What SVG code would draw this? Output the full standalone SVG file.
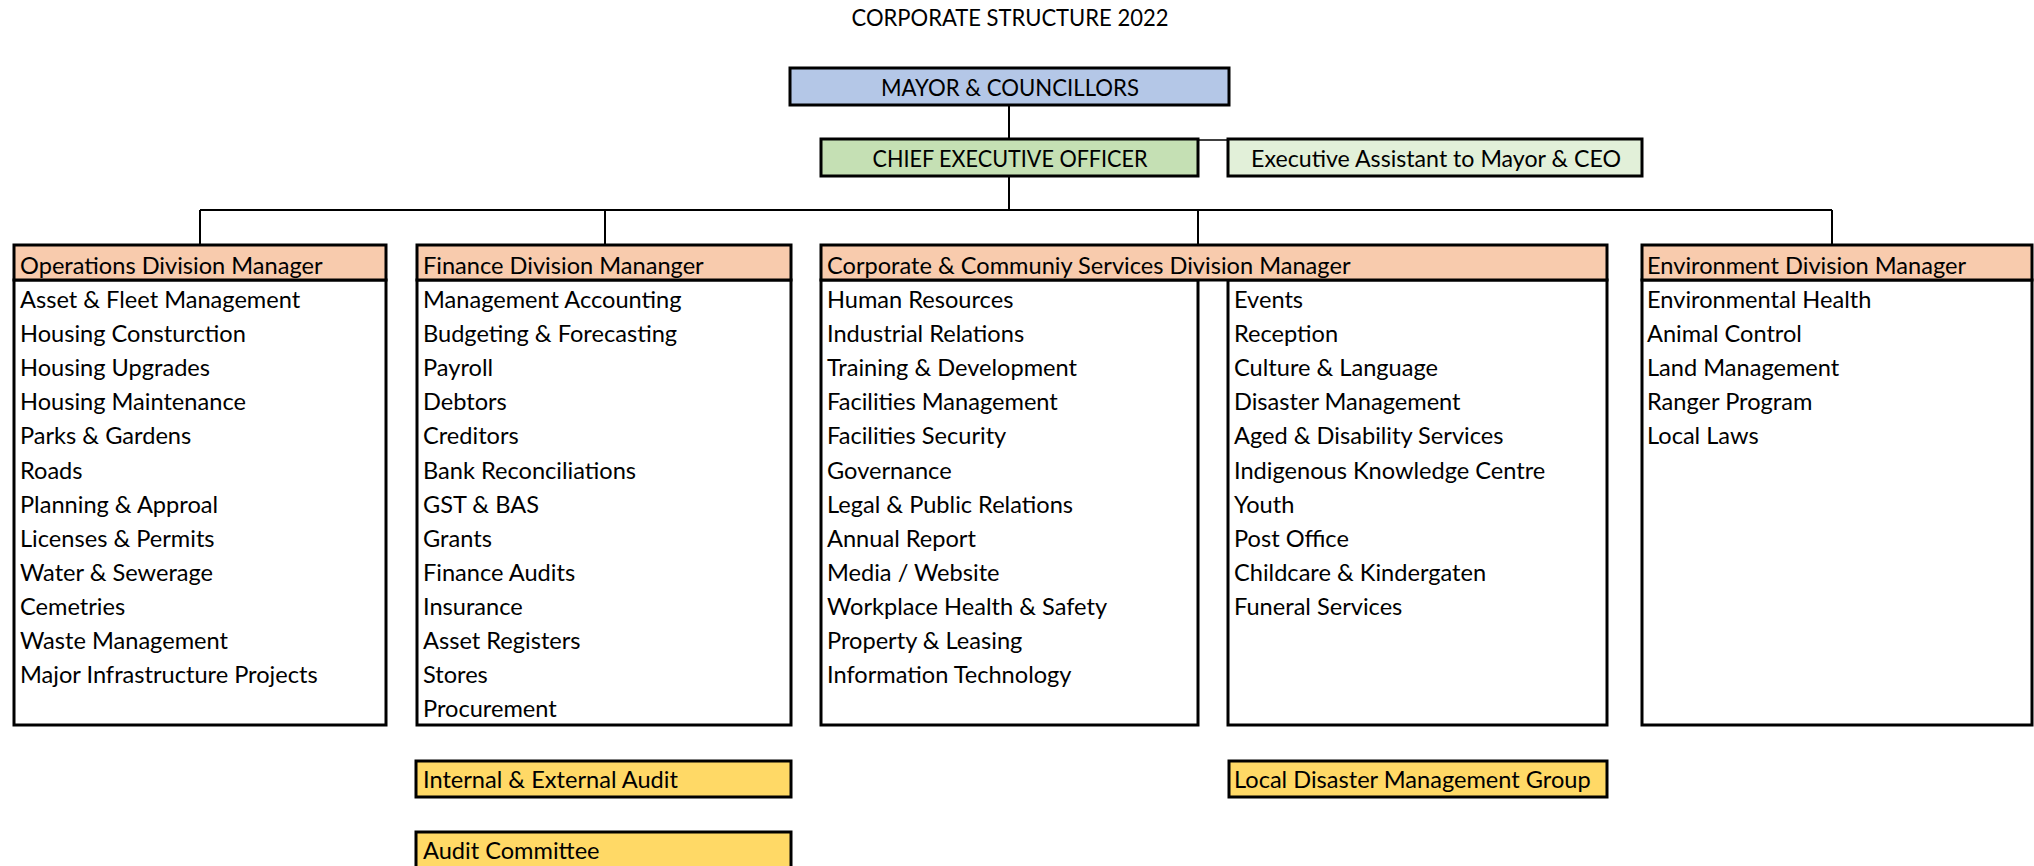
<svg xmlns="http://www.w3.org/2000/svg" width="2034" height="866" viewBox="0 0 2034 866">
  <style>
    text { font-family: Lato, "Liberation Sans", sans-serif; font-size: 23.6px; fill: #000; }
    .c { text-anchor: middle; }
    .box { stroke: #000; stroke-width: 3; }
    .hdr { fill: #F8CBAD; }
    .body { fill: #fff; }
    .gold { fill: #FFD966; }
    .conn line { stroke: #000; stroke-width: 2; }
  </style>
  <rect width="2034" height="866" fill="#fff"/>

  <text id="title" class="c" x="1010" y="26" textLength="317" lengthAdjust="spacingAndGlyphs">CORPORATE STRUCTURE 2022</text>

  <!-- connectors -->
  <g id="connectors" class="conn">
    <line x1="1009" y1="105" x2="1009" y2="210"/>
    <line x1="200" y1="210" x2="1832" y2="210"/>
    <line x1="200" y1="210" x2="200" y2="245"/>
    <line x1="605" y1="210" x2="605" y2="245"/>
    <line x1="1198" y1="210" x2="1198" y2="245"/>
    <line x1="1832" y1="210" x2="1832" y2="245"/>
    <line x1="1198" y1="140" x2="1228" y2="140" style="stroke:#404040"/>
  </g>

  <g id="mayor">
    <rect class="box" x="790" y="68" width="439" height="37" fill="#B4C7E7"/>
    <text class="c" x="1010" y="96" textLength="258" lengthAdjust="spacingAndGlyphs">MAYOR &amp; COUNCILLORS</text>
  </g>

  <g id="ceo">
    <rect class="box" x="821" y="139" width="377" height="37" fill="#C5E0B4"/>
    <text class="c" x="1010" y="167" textLength="275" lengthAdjust="spacingAndGlyphs">CHIEF EXECUTIVE OFFICER</text>
  </g>

  <g id="exec-assistant">
    <rect class="box" x="1228" y="139" width="414" height="37" fill="#E2F0D9"/>
    <text class="c" x="1436" y="167" textLength="370" lengthAdjust="spacingAndGlyphs">Executive Assistant to Mayor &amp; CEO</text>
  </g>

  <g id="operations">
    <rect class="box body" x="14" y="280" width="372" height="445"/>
    <rect class="box hdr" x="14" y="245" width="372" height="35"/>
    <text x="20" y="274">Operations Division Manager</text>
    <text>
      <tspan x="20" y="308">Asset &amp; Fleet Management</tspan>
      <tspan x="20" dy="34.1">Housing Consturction</tspan>
      <tspan x="20" dy="34.1">Housing Upgrades</tspan>
      <tspan x="20" dy="34.1">Housing Maintenance</tspan>
      <tspan x="20" dy="34.1">Parks &amp; Gardens</tspan>
      <tspan x="20" dy="34.1">Roads</tspan>
      <tspan x="20" dy="34.1">Planning &amp; Approal</tspan>
      <tspan x="20" dy="34.1">Licenses &amp; Permits</tspan>
      <tspan x="20" dy="34.1">Water &amp; Sewerage</tspan>
      <tspan x="20" dy="34.1">Cemetries</tspan>
      <tspan x="20" dy="34.1">Waste Management</tspan>
      <tspan x="20" dy="34.1">Major Infrastructure Projects</tspan>
    </text>
  </g>

  <g id="finance">
    <rect class="box body" x="417" y="280" width="374" height="445"/>
    <rect class="box hdr" x="417" y="245" width="374" height="35"/>
    <text x="423" y="274">Finance Division Mananger</text>
    <text>
      <tspan x="423" y="308">Management Accounting</tspan>
      <tspan x="423" dy="34.1">Budgeting &amp; Forecasting</tspan>
      <tspan x="423" dy="34.1">Payroll</tspan>
      <tspan x="423" dy="34.1">Debtors</tspan>
      <tspan x="423" dy="34.1">Creditors</tspan>
      <tspan x="423" dy="34.1">Bank Reconciliations</tspan>
      <tspan x="423" dy="34.1">GST &amp; BAS</tspan>
      <tspan x="423" dy="34.1">Grants</tspan>
      <tspan x="423" dy="34.1">Finance Audits</tspan>
      <tspan x="423" dy="34.1">Insurance</tspan>
      <tspan x="423" dy="34.1">Asset Registers</tspan>
      <tspan x="423" dy="34.1">Stores</tspan>
      <tspan x="423" dy="34.1">Procurement</tspan>
    </text>
  </g>

  <g id="corporate">
    <rect class="box body" x="821" y="280" width="377" height="445"/>
    <rect class="box body" x="1228" y="280" width="379" height="445"/>
    <rect class="box hdr" x="821" y="245" width="786" height="35"/>
    <text x="827" y="274">Corporate &amp; Communiy Services Division Manager</text>
    <text>
      <tspan x="827" y="308">Human Resources</tspan>
      <tspan x="827" dy="34.1">Industrial Relations</tspan>
      <tspan x="827" dy="34.1">Training &amp; Development</tspan>
      <tspan x="827" dy="34.1">Facilities Management</tspan>
      <tspan x="827" dy="34.1">Facilities Security</tspan>
      <tspan x="827" dy="34.1">Governance</tspan>
      <tspan x="827" dy="34.1">Legal &amp; Public Relations</tspan>
      <tspan x="827" dy="34.1">Annual Report</tspan>
      <tspan x="827" dy="34.1">Media / Website</tspan>
      <tspan x="827" dy="34.1">Workplace Health &amp; Safety</tspan>
      <tspan x="827" dy="34.1">Property &amp; Leasing</tspan>
      <tspan x="827" dy="34.1">Information Technology</tspan>
    </text>
    <text>
      <tspan x="1234" y="308">Events</tspan>
      <tspan x="1234" dy="34.1">Reception</tspan>
      <tspan x="1234" dy="34.1">Culture &amp; Language</tspan>
      <tspan x="1234" dy="34.1">Disaster Management</tspan>
      <tspan x="1234" dy="34.1">Aged &amp; Disability Services</tspan>
      <tspan x="1234" dy="34.1">Indigenous Knowledge Centre</tspan>
      <tspan x="1234" dy="34.1">Youth</tspan>
      <tspan x="1234" dy="34.1">Post Office</tspan>
      <tspan x="1234" dy="34.1">Childcare &amp; Kindergaten</tspan>
      <tspan x="1234" dy="34.1">Funeral Services</tspan>
    </text>
  </g>

  <g id="environment">
    <rect class="box body" x="1642" y="280" width="390" height="445"/>
    <rect class="box hdr" x="1642" y="245" width="390" height="35"/>
    <text x="1647" y="274">Environment Division Manager</text>
    <text>
      <tspan x="1647" y="308">Environmental Health</tspan>
      <tspan x="1647" dy="34.1">Animal Control</tspan>
      <tspan x="1647" dy="34.1">Land Management</tspan>
      <tspan x="1647" dy="34.1">Ranger Program</tspan>
      <tspan x="1647" dy="34.1">Local Laws</tspan>
    </text>
  </g>

  <g id="internal-external-audit">
    <rect class="box gold" x="416" y="761" width="375" height="36"/>
    <text x="423" y="788">Internal &amp; External Audit</text>
  </g>

  <g id="audit-committee">
    <rect class="box gold" x="416" y="832" width="375" height="40"/>
    <text x="423" y="859">Audit Committee</text>
  </g>

  <g id="local-disaster-management-group">
    <rect class="box gold" x="1229" y="761" width="378" height="36"/>
    <text x="1234" y="788">Local Disaster Management Group</text>
  </g>
</svg>
